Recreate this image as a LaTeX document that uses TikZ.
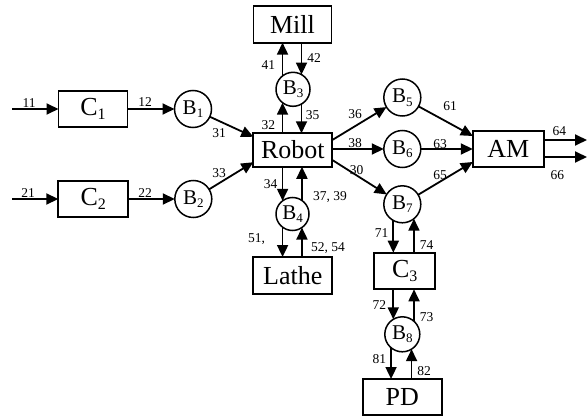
\documentclass[tikz,border=0pt]{standalone}
\usepackage{fontspec}
\setmainfont{Liberation Serif}
\usetikzlibrary{arrows.meta}
\newcommand\boxsub[2]{#1\raisebox{-4.5pt}{\fontsize{16}{16}\selectfont #2}}
\newcommand\bufsub[2]{#1\raisebox{-3.5pt}{\fontsize{13}{13}\selectfont #2}}
\tikzset{
  blk/.style={draw, line width=1.9pt, minimum width=78pt, minimum height=36pt, inner sep=0pt, outer sep=0pt, font=\fontsize{26}{26}\selectfont},
  buf/.style={draw, circle, line width=1.5pt, minimum size=37pt, inner sep=0pt, outer sep=0pt, font=\fontsize{21}{21}\selectfont},
  arr/.style={line width=1.8pt, -{Triangle[length=12pt,width=11pt]}},
  lab/.style={font=\fontsize{13.5}{13.5}\selectfont, inner sep=0pt}
}
\begin{document}
\begin{tikzpicture}[x=1pt,y=-1pt]
\useasboundingbox (0,0) rectangle (588,417);
% blocks
\node[blk, minimum width=69pt, minimum height=35.5pt] (C1) at (93,109) {\boxsub{C}{1}};
\node[blk, minimum width=70pt] (C2) at (93.3,199) {\boxsub{C}{2}};
\node[blk, minimum width=79pt, minimum height=33.5pt] (Robot) at (292.8,150) {Robot};
\node[blk, minimum width=78pt, minimum height=36.7pt] (Mill) at (292.5,24.3) {Mill};
\node[blk, minimum width=79pt, minimum height=37pt] (Lathe) at (292.8,275.5) {Lathe};
\node[blk, minimum width=71pt] (AM) at (508.3,149) {AM};
\node[blk, minimum width=61pt, minimum height=36.6pt] (C3) at (404.7,271) {\boxsub{C}{3}};
\node[blk, minimum width=79pt] (PD) at (402.2,397) {PD};
% buffers
\node[buf] (B1) at (193,109) {\bufsub{B}{1}};
\node[buf] (B2) at (193.3,199) {\bufsub{B}{2}};
\node[buf, minimum size=34pt] (B3) at (293,89.3) {\bufsub{B}{3}};
\node[buf, minimum size=33pt] (B4) at (292.5,214) {\bufsub{B}{4}};
\node[buf] (B5) at (402.3,97.5) {\bufsub{B}{5}};
\node[buf] (B6) at (402.3,149) {\bufsub{B}{6}};
\node[buf] (B7) at (402.3,204.3) {\bufsub{B}{7}};
\node[buf, minimum size=35pt] (B8) at (402.3,334.3) {\bufsub{B}{8}};
% free ends
\coordinate (in1) at (12,109);
\coordinate (in2) at (12,199);
\coordinate (out64) at (587,140);
\coordinate (out66) at (587,157);
% left side
\draw[arr] (in1) -- (C1.west);
\draw[arr] (C1.east) -- (B1.west);
\draw[arr] (in2) -- (C2.west);
\draw[arr] (C2.east) -- (B2.west);
\draw[arr] (B1) -- ([yshift=-3.5pt]Robot.north west);
\draw[arr] (B2) -- ([yshift=4.5pt]Robot.south west);
% Mill / B3
\draw[arr] (B3.128) -- (B3.128 |- Mill.south);
\draw[arr] (B3.60 |- Mill.south) -- (B3.60);
\draw[arr] (B3.232 |- Robot.north) -- (B3.232);
\draw[arr] (B3.300) -- (B3.300 |- Robot.north);
% Lathe / B4
\draw[arr] (B4.127 |- Robot.south) -- (B4.127);
\draw[arr] (B4.55) -- (B4.55 |- Robot.south);
\draw[arr] (B4.233) -- (B4.233 |- Lathe.north);
\draw[arr] (B4.305 |- Lathe.north) -- (B4.305);
% right side
\draw[arr] ([yshift=10pt]Robot.east) -- (B5);
\draw[arr] (Robot.east |- B6) -- (B6);
\draw[arr] ([yshift=-10pt]Robot.east) -- (B7);
\draw[arr] (B5) -- ([yshift=-5pt]AM.north west);
\draw[arr] (B6) -- (B6 -| AM.west);
\draw[arr] (B7) -- ([yshift=5pt]AM.south west);
\draw[arr] (AM.east |- out64) -- (out64);
\draw[arr] (AM.east |- out66) -- (out66);
% C3 / B7 / B8 / PD
\draw[arr] (B7.241) -- (B7.241 |- C3.north);
\draw[arr] (B7.309 |- C3.north) -- (B7.309);
\draw[arr] (B8.121 |- C3.south) -- (B8.121);
\draw[arr] (B8.48) -- (B8.48 |- C3.south);
\draw[arr] (B8.230) -- (B8.230 |- PD.north);
\draw[arr] (B8.302 |- PD.north) -- (B8.302);
% labels
\node[lab] (l11) at (29,103) {11};
\node[lab] (l12) at (145,102) {12};
\node[lab] (l21) at (28,193) {21};
\node[lab] (l22) at (145,193) {22};
\node[lab] (l31) at (219,133) {31};
\node[lab] (l33) at (219,172.7) {33};
\node[lab] (l41) at (268.3,65) {41};
\node[lab] (l42) at (314,58.3) {42};
\node[lab] (l32) at (268.3,125) {32};
\node[lab] (l35) at (312.7,115) {35};
\node[lab] (l34) at (270.5,184) {34};
\node[lab] (l3739) at (330,196.7) {37, 39};
\node[lab] (l51) at (256.6,239.5) {51,};
\node[lab] (l5254) at (328,248.3) {52, 54};
\node[lab] (l36) at (355,114) {36};
\node[lab] (l38) at (355,143) {38};
\node[lab] (l30) at (356.7,170) {30};
\node[lab] (l61) at (450,106) {61};
\node[lab] (l63) at (440,144) {63};
\node[lab] (l65) at (440,175) {65};
\node[lab] (l64) at (559.3,131) {64};
\node[lab] (l66) at (557.3,175) {66};
\node[lab] (l71) at (381.7,233.3) {71};
\node[lab] (l74) at (426.7,245) {74};
\node[lab] (l72) at (379.3,305) {72};
\node[lab] (l73) at (426.7,316.7) {73};
\node[lab] (l81) at (379.3,359.3) {81};
\node[lab] (l82) at (424,370.7) {82};
\end{tikzpicture}
\end{document}
